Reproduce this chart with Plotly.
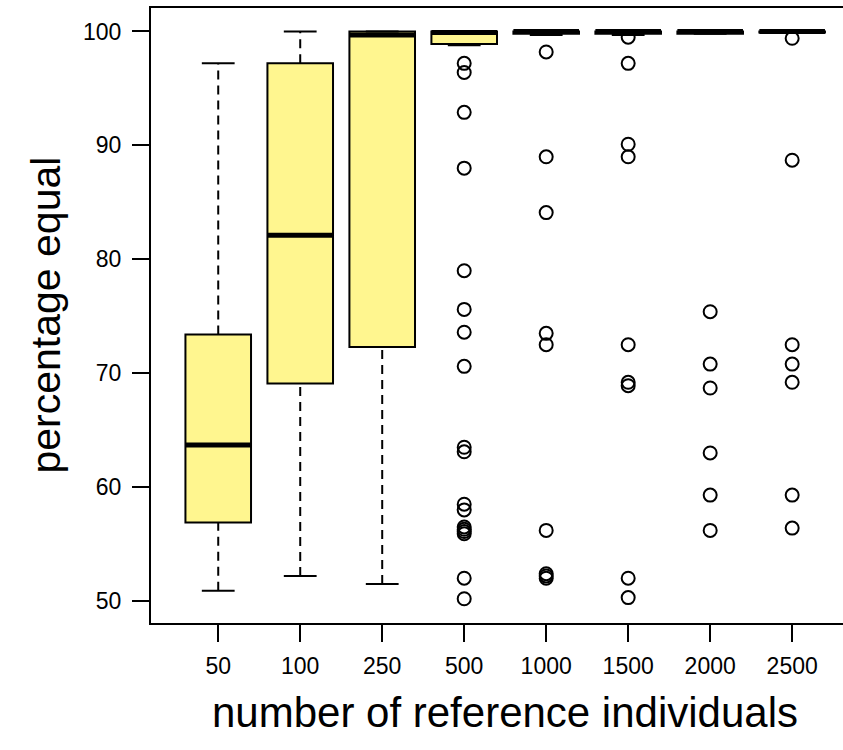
import plotly.graph_objects as go

categories = ["50", "100", "250", "500", "1000", "1500", "2000", "2500"]
q1_vals = [56.9, 69.1, 72.3, 98.9, 99.8, 99.8, 99.8, 99.9]
median_vals = [63.7, 82.1, 99.7, 99.9, 100.0, 100.0, 100.0, 100.0]
q3_vals = [73.4, 97.2, 100.0, 100.0, 100.0, 100.0, 100.0, 100.0]
lower_whisker = [50.9, 52.2, 51.5, 98.8, 99.7, 99.7, 99.8, 99.9]
upper_whisker = [97.2, 100.0, 100.0, 100.0, 100.0, 100.0, 100.0, 100.0]
outliers = [
    [],
    [],
    [],
    [97.2, 96.4, 92.9, 88.0, 79.0, 75.6, 73.6, 70.6, 63.5, 63.1, 58.5, 58.0,
     56.5, 56.3, 56.1, 55.9, 52.0, 50.2],
    [98.2, 89.0, 84.1, 73.5, 72.5, 56.2, 52.4, 52.2, 52.0],
    [99.5, 97.2, 90.1, 89.0, 72.5, 69.2, 68.9, 52.0, 50.3],
    [75.4, 70.8, 68.7, 63.0, 59.3, 56.2],
    [99.4, 88.7, 72.5, 70.8, 69.2, 59.3, 56.4],
]

positions = list(range(1, len(categories) + 1))
BOX_HALF = 0.4
CAP_HALF = 0.2
FONT = "Liberation Sans, Arial, sans-serif"

fig = go.Figure()

# dashed whiskers (drawn first so boxes cover them)
wx, wy = [], []
for p, lo, q1, q3, hi in zip(positions, lower_whisker, q1_vals, q3_vals, upper_whisker):
    wx += [p, p, None, p, p, None]
    wy += [lo, q1, None, q3, hi, None]
fig.add_trace(go.Scatter(x=wx, y=wy, mode="lines",
                         line=dict(color="black", width=2, dash="9px,6px"),
                         hoverinfo="skip", showlegend=False))

# caps
cx, cy = [], []
for p, lo, hi in zip(positions, lower_whisker, upper_whisker):
    cx += [p - CAP_HALF, p + CAP_HALF, None, p - CAP_HALF, p + CAP_HALF, None]
    cy += [lo, lo, None, hi, hi, None]
fig.add_trace(go.Scatter(x=cx, y=cy, mode="lines",
                         line=dict(color="black", width=2),
                         hoverinfo="skip", showlegend=False))

# boxes
fig.add_trace(go.Box(x=positions, q1=q1_vals, median=median_vals, q3=q3_vals,
                     lowerfence=q1_vals, upperfence=q3_vals,
                     width=2 * BOX_HALF, fillcolor="#FFF68F",
                     line=dict(color="black", width=2),
                     whiskerwidth=0, boxpoints=False,
                     hoverinfo="skip", showlegend=False))

# thick medians
mx, my = [], []
for p, m in zip(positions, median_vals):
    mx += [p - BOX_HALF, p + BOX_HALF, None]
    my += [m, m, None]
fig.add_trace(go.Scatter(x=mx, y=my, mode="lines",
                         line=dict(color="black", width=5),
                         hoverinfo="skip", showlegend=False))

# outliers
ox, oy = [], []
for p, vals in zip(positions, outliers):
    ox += [p] * len(vals)
    oy += vals
fig.add_trace(go.Scatter(x=ox, y=oy, mode="markers",
                         marker=dict(symbol="circle-open", size=13,
                                     color="black", line=dict(width=2, color="black")),
                         hoverinfo="skip", showlegend=False))

fig.update_layout(
    width=843, height=750,
    margin=dict(l=151, r=0, t=8, b=127),
    plot_bgcolor="white", paper_bgcolor="white",
    font=dict(family=FONT, color="black", size=23),
    showlegend=False,
    xaxis=dict(range=[0.18, 8.62], tickmode="array", tickvals=positions,
               ticktext=categories, ticks="outside", ticklen=17, tickwidth=2,
               tickcolor="black", showline=True, linewidth=2, linecolor="black",
               mirror=True, showgrid=False, zeroline=False,
               tickfont=dict(size=23, family=FONT), ticklabelstandoff=4),
    yaxis=dict(range=[48.07, 102.06], tickmode="array",
               tickvals=[50, 60, 70, 80, 90, 100],
               ticktext=["50", "60", "70", "80", "90", "100"],
               ticks="outside", ticklen=17, tickwidth=2, tickcolor="black",
               showline=True, linewidth=2, linecolor="black", mirror=False,
               showgrid=False, zeroline=False,
               tickfont=dict(size=23, family=FONT), ticklabelstandoff=6),
    annotations=[
        dict(text="number of reference individuals", xref="x", x=4.5,
             yref="paper", y=0, yanchor="middle", yshift=-89, showarrow=False,
             font=dict(size=42, family=FONT)),
        dict(text="percentage equal", xref="paper", x=0, xanchor="center",
             xshift=-106, yref="paper", y=0.5, yanchor="middle",
             textangle=-90, showarrow=False, font=dict(size=41, family=FONT)),
    ],
)

fig.write_html("out.html")
